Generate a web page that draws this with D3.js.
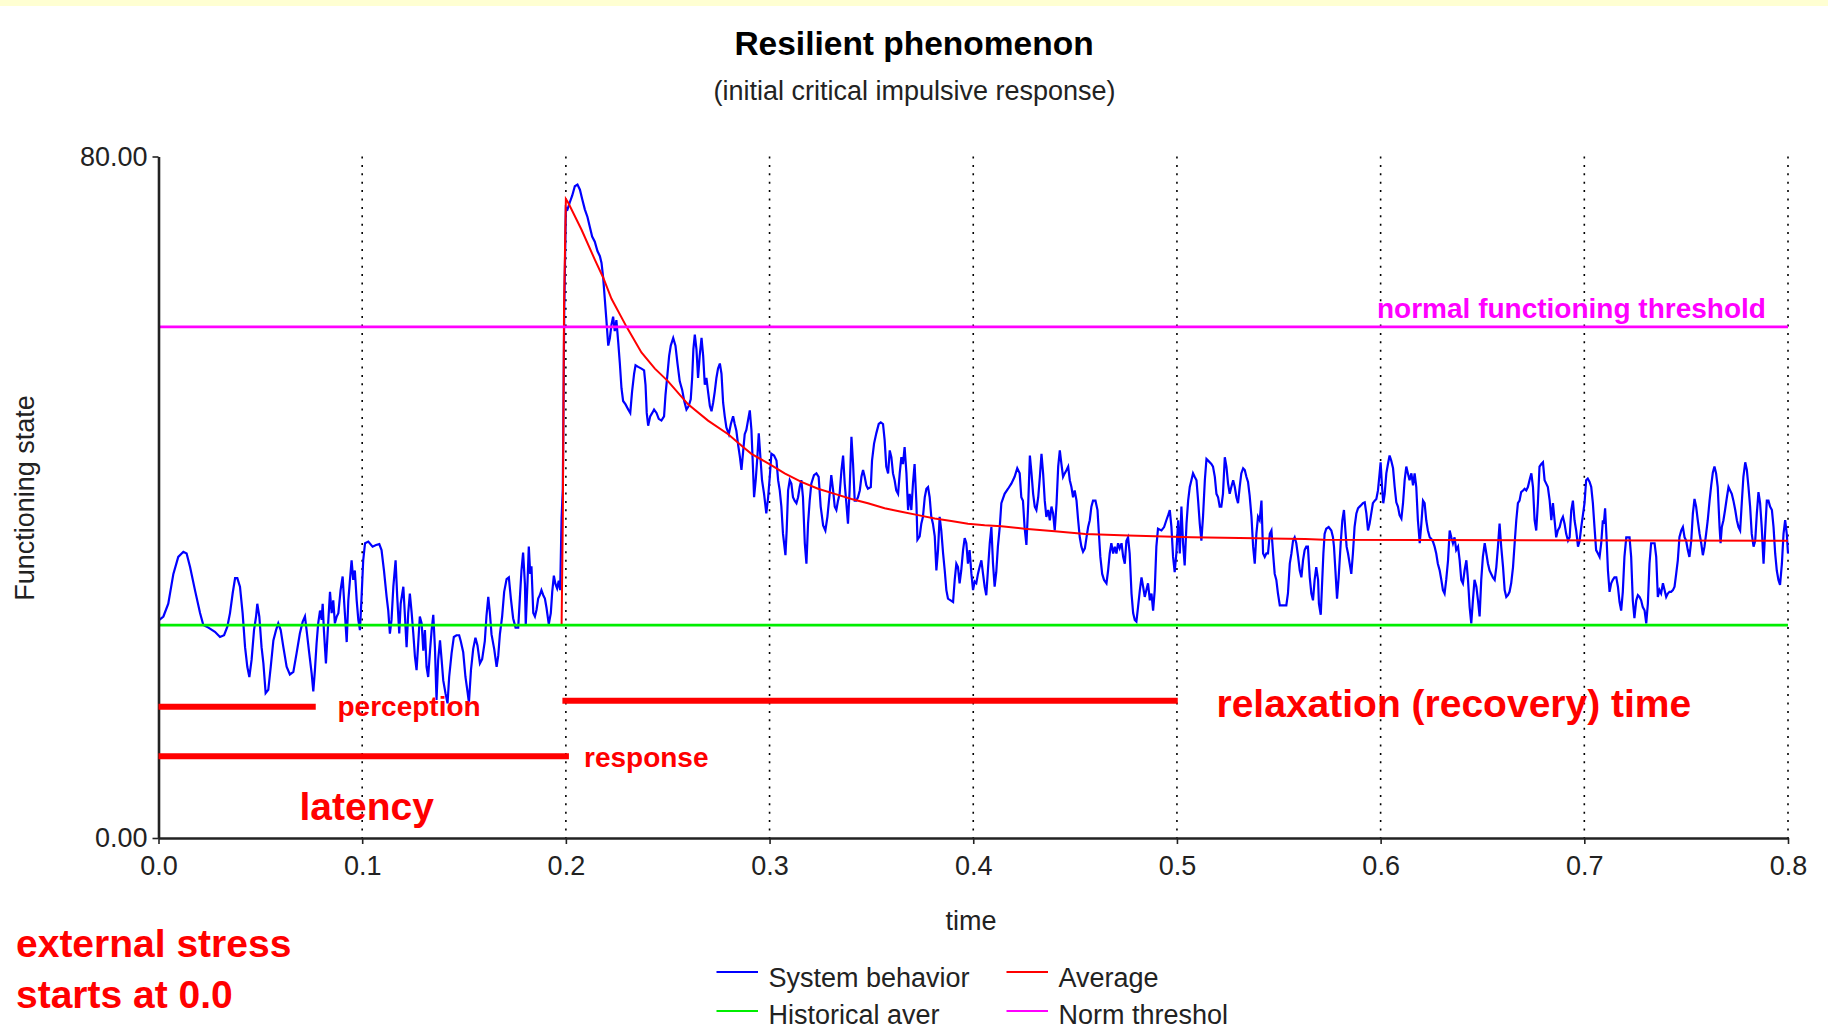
<!DOCTYPE html>
<html>
<head>
<meta charset="utf-8">
<script src="https://cdn.jsdelivr.net/npm/d3@7"></script>
<style>
  body { margin: 0; background: #fff; }
  svg { display: block; font-family: "Liberation Sans", Arial, sans-serif; }
</style>
</head>
<body>
<div id="chart"></div>
<script>
// Chart values
const xTicks = [0, 0.1, 0.2, 0.3, 0.4, 0.5, 0.6, 0.7, 0.8];
const yTicks = [0, 80];
const historicalAverage = 25;
const normThreshold = 60;

// [time, functioning state]
const systemBehavior = [
  [0.0004,25.6],[0.0024,26.0],[0.0048,27.5],[0.0073,31.0],[0.0097,33.0],[0.0122,33.6],[0.0138,33.4],[0.0155,31.8],[0.0179,29.1],[0.0204,26.4],
  [0.0220,25.0],[0.0245,24.7],[0.0277,24.2],[0.0302,23.6],[0.0322,23.8],[0.0338,24.8],[0.0351,26.4],[0.0364,28.7],[0.0376,30.5],[0.0387,30.5],
  [0.0400,29.5],[0.0413,26.4],[0.0425,22.4],[0.0436,20.1],[0.0446,18.9],[0.0457,20.9],[0.0469,24.4],[0.0479,26.0],[0.0485,27.5],[0.0495,26.0],
  [0.0506,22.4],[0.0515,20.5],[0.0526,17.0],[0.0539,17.4],[0.0551,20.1],[0.0564,23.2],[0.0577,24.4],[0.0588,25.2],[0.0600,24.4],[0.0613,22.4],
  [0.0629,20.1],[0.0645,19.2],[0.0662,19.5],[0.0678,21.7],[0.0694,24.0],[0.0708,25.4],[0.0719,26.0],[0.0727,24.4],[0.0740,21.7],[0.0752,19.3],
  [0.0760,17.2],[0.0768,19.7],[0.0776,22.8],[0.0784,25.2],[0.0793,26.7],[0.0801,25.6],[0.0806,27.5],[0.0812,24.4],[0.0822,20.5],[0.0834,25.6],
  [0.0842,28.9],[0.0850,26.4],[0.0858,27.9],[0.0866,25.2],[0.0875,26.0],[0.0883,26.4],[0.0894,29.1],[0.0904,30.7],[0.0912,27.5],[0.0924,23.0],
  [0.0932,27.9],[0.0940,30.3],[0.0948,32.6],[0.0956,30.3],[0.0964,31.4],[0.0973,27.9],[0.0981,25.6],[0.0989,24.4],[0.0997,28.3],[0.1005,32.6],
  [0.1014,34.6],[0.1030,34.8],[0.1051,34.2],[0.1068,34.4],[0.1084,34.5],[0.1095,33.8],[0.1107,31.4],[0.1120,28.3],[0.1128,26.7],[0.1136,24.0],
  [0.1144,25.6],[0.1153,29.5],[0.1164,32.6],[0.1172,28.3],[0.1182,24.0],[0.1189,27.5],[0.1202,29.5],[0.1210,26.0],[0.1218,22.4],[0.1226,26.4],
  [0.1234,28.7],[0.1243,26.4],[0.1251,24.0],[0.1259,21.3],[0.1267,19.7],[0.1275,22.8],[0.1283,26.0],[0.1292,25.2],[0.1300,22.0],[0.1308,24.4],
  [0.1316,20.1],[0.1324,18.9],[0.1333,22.0],[0.1341,24.4],[0.1349,26.2],[0.1357,22.4],[0.1365,16.2],[0.1373,20.9],[0.1382,23.2],[0.1390,20.9],
  [0.1398,18.5],[0.1409,17.0],[0.1419,15.8],[0.1427,18.9],[0.1439,21.7],[0.1450,23.6],[0.1463,23.8],[0.1476,23.8],
  [0.1484,23.1],[0.1496,21.8],[0.1507,18.9],[0.1517,17.2],[0.1524,15.9],[0.1534,19.7],[0.1545,22.2],[0.1556,23.5],[0.1566,22.6],[0.1578,20.5],
  [0.1589,21.0],[0.1602,23.1],[0.1610,26.0],[0.1619,28.3],[0.1627,26.4],[0.1635,23.9],[0.1648,22.2],[0.1660,20.1],[0.1668,21.4],[0.1676,23.9],
  [0.1687,26.0],[0.1697,28.9],[0.1709,30.4],[0.1720,30.6],[0.1730,28.1],[0.1741,25.8],[0.1753,24.7],[0.1766,24.7],[0.1774,28.1],[0.1782,31.4],
  [0.1790,33.5],[0.1799,29.8],[0.1803,25.0],[0.1812,30.2],[0.1818,34.2],[0.1825,31.0],[0.1831,31.9],[0.1840,26.4],[0.1848,26.0],[0.1856,26.8],
  [0.1864,28.1],[0.1872,28.5],[0.1880,29.1],[0.1889,28.5],[0.1897,28.1],[0.1905,27.0],[0.1916,25.1],[0.1926,26.4],[0.1933,28.9],[0.1941,30.8],
  [0.1949,29.8],[0.1957,29.3],[0.1965,30.2],[0.1972,29.1],[0.1979,37.6],[0.1985,41.0],[0.1992,62.0],[0.2000,74.0],
  [0.2008,73.8],[0.2019,74.6],[0.2031,75.4],[0.2044,76.5],[0.2057,76.7],[0.2069,76.1],[0.2080,75.0],[0.2093,73.8],[0.2106,72.9],[0.2118,71.7],
  [0.2129,70.6],[0.2142,70.0],[0.2155,68.9],[0.2167,68.3],[0.2175,67.5],[0.2183,65.8],[0.2191,63.3],[0.2199,60.8],[0.2208,57.8],[0.2216,58.7],
  [0.2224,60.3],[0.2232,61.2],[0.2240,59.5],[0.2248,60.8],[0.2257,58.2],[0.2265,55.7],[0.2273,52.8],[0.2281,51.3],[0.2293,50.9],[0.2306,50.3],
  [0.2316,49.9],[0.2325,52.4],[0.2335,54.5],[0.2342,55.5],[0.2355,55.3],[0.2371,55.1],[0.2384,54.9],[0.2391,53.2],[0.2397,49.9],[0.2404,48.4],
  [0.2414,49.5],[0.2424,49.9],[0.2433,50.3],[0.2445,49.9],[0.2456,49.2],[0.2469,49.0],[0.2482,49.5],[0.2489,52.0],[0.2499,54.5],[0.2507,56.6],
  [0.2515,57.8],[0.2527,58.7],[0.2538,57.8],[0.2548,55.7],[0.2559,53.6],[0.2571,52.6],[0.2581,51.3],[0.2592,50.3],[0.2603,50.7],[0.2613,51.5],
  [0.2620,54.0],[0.2626,57.4],[0.2633,59.1],[0.2641,57.4],[0.2649,54.0],[0.2657,56.6],[0.2666,58.7],[0.2674,56.6],[0.2682,53.2],[0.2690,54.0],
  [0.2698,52.4],[0.2707,50.7],[0.2715,50.1],[0.2723,51.1],[0.2731,52.4],[0.2739,54.0],[0.2747,55.1],[0.2756,55.7],[0.2764,54.5],[0.2772,51.1],
  [0.2780,49.5],[0.2788,48.2],[0.2800,47.4],[0.2810,48.6],[0.2821,49.5],[0.2829,48.6],[0.2837,47.8],[0.2846,46.1],[0.2854,44.8],[0.2862,43.2],
  [0.2870,45.3],[0.2878,47.4],
  [0.2886,47.9],[0.2894,49.0],[0.2903,50.2],[0.2911,47.9],[0.2919,43.2],[0.2924,40.0],[0.2932,42.0],[0.2940,44.7],[0.2947,47.5],[0.2955,44.7],
  [0.2963,42.0],[0.2973,40.4],[0.2984,38.1],[0.2993,40.0],[0.3001,42.4],[0.3009,45.1],[0.3022,44.9],[0.3034,44.3],[0.3042,42.0],[0.3050,40.8],
  [0.3058,38.9],[0.3066,35.7],[0.3078,33.2],[0.3084,36.1],[0.3091,40.8],[0.3099,42.0],[0.3107,41.6],[0.3115,40.0],[0.3123,39.6],[0.3132,39.3],
  [0.3140,40.0],[0.3148,41.2],[0.3156,42.0],[0.3164,40.0],[0.3173,34.6],[0.3181,32.2],[0.3189,36.9],[0.3197,39.6],[0.3205,41.6],[0.3218,42.6],
  [0.3230,42.8],[0.3241,42.4],[0.3251,38.9],[0.3263,36.7],[0.3274,36.1],[0.3284,37.7],[0.3295,40.4],[0.3303,42.6],[0.3312,40.8],[0.3320,38.9],
  [0.3328,38.5],[0.3336,39.6],[0.3344,40.4],[0.3353,43.2],[0.3361,44.9],[0.3369,41.6],[0.3377,39.3],[0.3385,36.9],[0.3393,40.8],[0.3402,47.1],
  [0.3410,43.9],[0.3418,39.6],[0.3426,39.6],[0.3434,40.0],[0.3443,40.8],[0.3451,42.4],[0.3459,43.2],[0.3467,42.4],[0.3475,41.4],[0.3483,41.0],
  [0.3497,41.2],[0.3503,44.3],[0.3513,46.3],[0.3524,47.5],[0.3536,48.6],[0.3546,48.8],[0.3557,48.6],[0.3565,46.7],[0.3573,43.6],[0.3582,42.8],
  [0.3590,45.5],[0.3598,44.7],[0.3606,42.8],[0.3614,42.0],[0.3622,40.8],[0.3631,40.4],[0.3639,42.8],[0.3647,44.7],[0.3655,43.9],[0.3663,45.9],
  [0.3672,42.8],[0.3680,38.5],[0.3688,40.4],[0.3696,38.5],[0.3704,41.6],[0.3712,43.9],[0.3721,39.3],[0.3726,35.0],[0.3737,35.4],[0.3745,36.9],
  [0.3753,37.7],[0.3762,40.0],[0.3770,41.0],[0.3778,41.2],[0.3786,40.0],[0.3794,37.7],[0.3802,36.9],[0.3811,35.4],[0.3819,31.4],[0.3827,33.8],
  [0.3835,37.7],[0.3843,36.1],[0.3852,33.4],[0.3860,31.4],[0.3868,29.1],[0.3876,28.1],[0.3889,27.9],[0.3901,27.7],[0.3909,30.3],[0.3917,32.2],
  [0.3925,31.8],[0.3933,29.9],[0.3941,31.4],[0.3950,33.8],[0.3958,35.2],[0.3966,34.6],[0.3974,32.2],[0.3982,33.8],[0.3991,31.0],[0.3999,29.1],
  [0.4007,30.1],[0.4015,29.9],[0.4023,31.0],[0.4031,31.8],[0.4040,32.6],[0.4048,31.0],[0.4056,29.5],[0.4064,28.5],[0.4072,31.4],[0.4081,34.6],
  [0.4089,36.5],[0.4097,32.2],[0.4105,29.5],[0.4113,31.2],[0.4121,34.2],[0.4130,36.5],[0.4138,39.3],[0.4154,40.4],[0.4171,41.0],[0.4187,41.6],
  [0.4203,42.4],[0.4216,43.4],[0.4228,42.8],[0.4236,40.0],[0.4244,39.6],[0.4252,36.5],
  [0.4261,34.4],[0.4270,39.3],[0.4278,44.9],[0.4286,42.8],[0.4294,40.4],[0.4302,38.9],[0.4310,38.5],[0.4319,40.0],[0.4327,42.4],[0.4335,45.1],
  [0.4343,42.8],[0.4351,39.6],[0.4359,37.7],[0.4368,38.5],[0.4376,37.3],[0.4384,38.9],[0.4392,38.1],[0.4400,36.1],[0.4409,39.3],[0.4417,43.6],
  [0.4425,45.5],[0.4433,43.9],[0.4441,42.4],[0.4449,42.8],[0.4458,43.2],[0.4466,43.6],[0.4474,42.0],[0.4482,41.2],[0.4490,40.0],[0.4498,40.8],
  [0.4507,39.6],[0.4515,37.3],[0.4523,35.3],[0.4531,34.2],[0.4539,33.6],[0.4548,34.0],[0.4556,35.3],[0.4564,36.5],[0.4572,37.3],[0.4580,38.9],
  [0.4588,39.6],[0.4600,39.6],[0.4610,38.5],[0.4616,36.1],[0.4624,33.0],[0.4633,31.0],[0.4642,30.3],[0.4654,29.9],[0.4662,31.4],[0.4670,33.4],
  [0.4678,34.6],[0.4687,33.4],[0.4695,34.2],[0.4703,33.4],[0.4711,34.6],[0.4719,34.0],[0.4728,34.6],[0.4736,33.0],[0.4744,32.2],[0.4752,34.9],
  [0.4760,35.3],[0.4768,33.4],[0.4777,28.7],[0.4785,26.4],[0.4793,25.6],[0.4801,25.4],[0.4809,27.1],[0.4818,29.1],[0.4826,30.6],[0.4834,29.5],
  [0.4842,28.3],[0.4850,29.1],[0.4858,29.9],[0.4867,27.9],[0.4875,28.7],[0.4883,26.7],[0.4891,29.1],[0.4899,34.2],[0.4907,36.3],[0.4924,36.1],
  [0.4937,36.5],[0.4948,37.3],[0.4957,37.9],[0.4965,38.5],[0.4973,36.5],[0.4981,33.0],[0.4989,31.2],[0.4997,33.4],[0.5006,37.3],[0.5014,33.4],
  [0.5022,38.9],[0.5030,34.6],[0.5038,32.0],[0.5047,36.9],[0.5055,39.6],[0.5063,41.2],[0.5071,42.0],[0.5079,42.8],[0.5087,42.4],[0.5096,42.0],
  [0.5104,39.6],[0.5112,36.9],[0.5120,34.9],[0.5128,37.7],[0.5137,42.0],[0.5145,44.5],[0.5153,44.3],[0.5169,43.9],[0.5177,43.6],[0.5186,42.4],
  [0.5194,40.4],[0.5202,40.0],[0.5210,38.9],[0.5218,38.9],[0.5226,40.4],[0.5235,44.7],[0.5243,43.6],[0.5251,41.6],[0.5259,40.4],[0.5267,41.2],
  [0.5276,42.0],[0.5284,41.2],[0.5292,40.0],[0.5300,39.3],[0.5308,41.2],[0.5316,42.8],[0.5325,43.4],[0.5333,43.2],[0.5341,42.4],[0.5349,41.8],
  [0.5357,40.2],[0.5366,37.7],[0.5374,34.2],[0.5382,32.2],[0.5390,35.7],[0.5398,37.7],[0.5406,37.3],[0.5415,39.6],[0.5423,33.4],[0.5431,33.0],
  [0.5439,33.4],[0.5447,33.4],[0.5456,35.7],[0.5464,36.1],[0.5472,33.4],[0.5480,31.0],[0.5488,30.3],[0.5496,28.7],[0.5505,27.3],[0.5521,27.3],
  [0.5537,27.3],[0.5545,28.7],[0.5554,32.2],[0.5562,33.4],[0.5570,34.9],[0.5578,35.3],[0.5586,34.6],[0.5595,33.0],[0.5603,31.4],[0.5611,30.6],
  [0.5619,32.6],[0.5627,33.8],
  [0.5635,34.2],[0.5643,34.2],[0.5652,30.6],[0.5660,28.7],[0.5668,27.9],[0.5676,30.3],[0.5684,31.8],[0.5693,30.3],[0.5697,27.5],[0.5706,26.2],
  [0.5712,29.5],[0.5719,33.4],[0.5725,35.7],[0.5733,36.3],[0.5745,36.5],[0.5758,36.1],[0.5766,35.3],[0.5771,34.2],[0.5778,31.4],[0.5786,28.1],
  [0.5794,30.6],[0.5804,34.6],[0.5812,37.3],[0.5820,38.5],[0.5827,36.1],[0.5833,34.2],[0.5840,33.4],[0.5848,32.2],[0.5856,31.0],[0.5864,33.4],
  [0.5872,36.5],[0.5881,38.1],[0.5889,38.7],[0.5897,38.9],[0.5905,39.1],[0.5913,39.3],[0.5922,39.4],[0.5930,38.1],[0.5938,36.1],[0.5946,36.9],
  [0.5954,38.1],[0.5962,39.3],[0.5971,39.6],[0.5979,39.8],[0.5987,40.8],[0.5995,42.8],[0.6000,44.1],[0.6007,41.2],[0.6013,39.3],[0.6020,40.4],
  [0.6028,42.8],[0.6036,43.9],[0.6044,44.9],[0.6052,44.3],[0.6061,43.4],[0.6069,41.2],[0.6077,39.4],[0.6085,38.9],[0.6093,37.9],[0.6102,37.5],
  [0.6110,39.3],[0.6118,42.0],[0.6126,43.6],[0.6134,42.8],[0.6142,42.0],[0.6151,42.8],[0.6159,41.4],[0.6167,42.8],[0.6175,41.2],[0.6183,37.3],
  [0.6192,34.6],[0.6200,36.9],[0.6208,39.6],[0.6216,39.3],[0.6224,37.3],[0.6232,36.1],[0.6241,35.3],[0.6249,35.1],[0.6257,34.8],[0.6265,34.2],
  [0.6273,33.4],[0.6281,32.2],[0.6290,31.4],[0.6298,30.3],[0.6306,29.1],[0.6314,28.7],[0.6322,30.3],[0.6331,32.6],[0.6339,36.1],[0.6347,35.3],
  [0.6355,34.6],[0.6363,35.3],[0.6371,33.8],[0.6380,34.2],[0.6388,32.6],[0.6396,30.3],[0.6404,29.9],[0.6412,31.4],[0.6421,32.6],[0.6429,30.3],
  [0.6437,27.1],[0.6445,25.2],[0.6453,27.9],[0.6461,30.3],[0.6470,29.5],[0.6478,27.9],[0.6486,26.0],[0.6494,30.3],[0.6502,33.0],[0.6511,34.6],
  [0.6519,33.4],[0.6527,32.2],[0.6535,31.4],[0.6543,31.0],[0.6551,30.6],[0.6560,30.3],[0.6568,31.8],[0.6576,34.2],[0.6584,36.9],[0.6592,34.2],
  [0.6601,31.8],[0.6609,29.1],[0.6617,28.3],[0.6625,28.5],[0.6633,28.9],[0.6641,29.9],[0.6650,31.8],[0.6658,34.6],[0.6666,37.3],[0.6674,39.3],
  [0.6682,39.6],[0.6690,40.6],[0.6699,40.8],[0.6707,41.0],[0.6715,40.8],[0.6723,41.2],[0.6731,42.0],[0.6740,42.8],[0.6748,41.2],[0.6756,37.3],
  [0.6764,36.1],[0.6772,39.3],[0.6780,43.6],[0.6789,43.9],[0.6797,44.1],[0.6805,42.0],[0.6813,41.6],[0.6821,41.2],[0.6830,39.6],[0.6838,37.3],
  [0.6846,39.3],[0.6854,37.3],[0.6862,35.3],[0.6870,36.1],[0.6879,36.5],[0.6887,37.3],[0.6895,37.7],[0.6903,36.9],[0.6911,35.7],[0.6920,34.9],
  [0.6928,35.3],[0.6936,38.5],[0.6944,39.6],[0.6952,37.3],[0.6960,36.1],[0.6969,34.2],[0.6977,34.9],[0.6985,36.5],
  [0.7001,39.3],[0.7009,42.0],[0.7017,42.2],[0.7026,41.8],[0.7034,41.2],[0.7042,39.3],[0.7050,36.5],[0.7058,33.8],[0.7067,33.4],[0.7075,33.0],
  [0.7083,34.6],[0.7091,37.3],[0.7096,36.9],[0.7102,38.7],[0.7109,35.3],[0.7116,31.4],[0.7124,28.9],[0.7132,29.9],[0.7140,30.3],[0.7148,30.6],
  [0.7157,30.6],[0.7165,29.5],[0.7173,27.7],[0.7181,26.7],[0.7189,28.9],[0.7197,33.0],[0.7206,35.3],[0.7214,35.3],[0.7222,35.3],[0.7230,33.0],
  [0.7238,27.9],[0.7246,25.8],[0.7255,27.9],[0.7263,28.5],[0.7271,28.3],[0.7279,27.9],[0.7287,27.1],[0.7296,26.7],[0.7304,25.2],[0.7312,27.5],
  [0.7320,32.2],[0.7328,34.6],[0.7336,34.6],[0.7345,34.6],[0.7353,33.0],[0.7361,28.3],[0.7369,29.1],[0.7377,28.7],[0.7386,29.9],[0.7394,29.1],
  [0.7402,28.3],[0.7410,28.7],[0.7418,28.9],[0.7426,28.9],[0.7435,29.1],[0.7443,29.5],[0.7451,31.0],[0.7459,32.6],[0.7467,35.3],[0.7476,36.1],
  [0.7484,36.5],[0.7492,35.3],[0.7500,34.9],[0.7508,33.8],[0.7516,33.0],[0.7525,34.9],[0.7533,38.1],[0.7541,39.8],[0.7549,38.9],[0.7557,37.3],
  [0.7566,35.7],[0.7574,34.6],[0.7582,33.2],[0.7590,34.2],[0.7598,35.7],[0.7606,37.3],[0.7615,39.6],[0.7623,41.4],[0.7631,42.9],[0.7639,43.6],
  [0.7647,42.8],[0.7655,41.2],[0.7664,36.5],[0.7669,34.6],[0.7675,36.5],[0.7683,37.3],[0.7691,38.5],[0.7700,40.0],[0.7708,41.2],[0.7716,40.8],
  [0.7724,40.4],[0.7732,39.6],[0.7741,38.5],[0.7749,37.3],[0.7757,36.5],[0.7765,36.1],[0.7773,39.3],[0.7781,42.4],[0.7790,44.1],[0.7798,43.2],
  [0.7806,41.2],[0.7814,38.9],[0.7822,35.7],[0.7831,34.2],[0.7839,34.9],[0.7847,38.1],[0.7855,40.6],[0.7863,39.3],[0.7871,36.5],[0.7880,32.2],
  [0.7888,36.1],[0.7896,39.6],[0.7904,39.6],[0.7912,38.9],[0.7921,38.5],[0.7929,36.5],[0.7937,33.4],[0.7945,31.4],[0.7953,30.3],[0.7961,29.7],
  [0.7970,32.2],[0.7978,35.7],[0.7986,37.3],[0.7994,35.7],[0.8000,33.4]
];

// [time, average]
const averageCurve = [
  [0,25],[0.1979,25],[0.1985,37.5],[0.1991,62.5],[0.2000,75],[0.2011,74.6],[0.2077,71.4],[0.2142,67.9],[0.2183,65.8],[0.2224,63.3],
  [0.2298,60.0],[0.2371,57.0],[0.2437,55.1],[0.2502,53.6],[0.2600,50.9],[0.2698,49.0],[0.2797,47.4],[0.2870,45.9],[0.2911,45.1],[0.3006,43.8],
  [0.3074,42.8],[0.3156,41.8],[0.3238,41.0],[0.3320,40.4],[0.3402,39.8],[0.3483,39.3],[0.3565,38.7],[0.3647,38.3],[0.3729,37.9],[0.3811,37.5],
  [0.3892,37.2],[0.3974,36.9],[0.4056,36.7],[0.4138,36.6],[0.4252,36.3],[0.4400,36.0],[0.4550,35.7],[0.4760,35.5],[0.5070,35.3],[0.5630,35.1],
  [0.5720,35.0],[0.8000,34.9]
];

// phase bars: name, start, end, level
const phaseNames = ["perception", "response", "relaxation"];
const phaseStart = [0, 0, 0.1983];
const phaseEnd = [0.0772, 0.2015, 0.5004];
const phaseLevel = [15.4, 9.6, 16.1];

const legendNames = ["System behavior", "Average", "Historical aver", "Norm threshol"];
const legendColors = ["#0000ff", "#ff0000", "#00ee00", "#ff00ff"];

// Dimensions
const width = 1828, height = 1035;
const x = d3.scaleLinear().domain([0, 0.8]).range([158.5, 1788]);
const y = d3.scaleLinear().domain([0, 80]).range([838, 156.5]);

const svg = d3.select("#chart").append("svg")
  .attr("width", width)
  .attr("height", height);

svg.append("rect").attr("width", width).attr("height", height).attr("fill", "#fff");
svg.append("rect").attr("width", width).attr("height", 6).attr("fill", "#ffffd2");

// Titles
svg.append("text")
  .attr("x", 914).attr("y", 55)
  .attr("text-anchor", "middle")
  .style("font-size", "33.5px").style("font-weight", "bold")
  .attr("fill", "#000")
  .text("Resilient phenomenon");

svg.append("text")
  .attr("x", 914.5).attr("y", 100)
  .attr("text-anchor", "middle")
  .style("font-size", "27px")
  .attr("fill", "#222")
  .text("(initial critical impulsive response)");

// Dotted vertical grid
svg.append("g").selectAll("line")
  .data(xTicks.filter(d => d > 0))
  .enter().append("line")
  .attr("x1", d => x(d)).attr("x2", d => x(d))
  .attr("y1", y(80)).attr("y2", y(0))
  .attr("stroke", "#000")
  .attr("stroke-width", 1.6)
  .attr("stroke-dasharray", "2 6.4");

// Lines
const line = d3.line().x(d => x(d[0])).y(d => y(d[1]));

svg.append("path")
  .datum(systemBehavior)
  .attr("d", line)
  .attr("fill", "none")
  .attr("stroke", "#0000ff")
  .attr("stroke-width", 2.2);

svg.append("path")
  .datum(averageCurve)
  .attr("d", line)
  .attr("fill", "none")
  .attr("stroke", "#ff0000")
  .attr("stroke-width", 2);

svg.append("path")
  .datum([[0, historicalAverage], [0.8, historicalAverage]])
  .attr("d", line)
  .attr("fill", "none")
  .attr("stroke", "#00ee00")
  .attr("stroke-width", 2.8);

svg.append("path")
  .datum([[0, normThreshold], [0.8, normThreshold]])
  .attr("d", line)
  .attr("fill", "none")
  .attr("stroke", "#ff00ff")
  .attr("stroke-width", 2.8);

// Axes
const xAxis = svg.append("g")
  .attr("transform", "translate(0," + y(0) + ")")
  .call(d3.axisBottom(x).tickValues(xTicks).tickFormat(d3.format(".1f"))
    .tickSize(6).tickSizeOuter(0).tickPadding(12));

const yAxis = svg.append("g")
  .attr("transform", "translate(" + x(0) + ",0)")
  .call(d3.axisLeft(y).tickValues(yTicks).tickFormat(d3.format(".2f"))
    .tickSize(6).tickSizeOuter(0).tickPadding(5));

[xAxis, yAxis].forEach(g => {
  g.attr("font-family", null).attr("font-size", null);
  g.select(".domain").attr("stroke", "#222").attr("stroke-width", 2.6);
  g.selectAll(".tick line").attr("stroke", "#222").attr("stroke-width", 1.6);
  g.selectAll(".tick text").attr("fill", "#222").style("font-size", "27px");
});

// Axis titles
svg.append("text")
  .attr("x", 971).attr("y", 930)
  .attr("text-anchor", "middle")
  .style("font-size", "27px")
  .attr("fill", "#222")
  .text("time");

svg.append("text")
  .attr("transform", "translate(34,498) rotate(-90)")
  .attr("text-anchor", "middle")
  .style("font-size", "27px")
  .attr("fill", "#222")
  .text("Functioning state");

// Phase bars
svg.append("g").selectAll("line")
  .data(phaseNames)
  .enter().append("line")
  .attr("x1", (d, i) => x(phaseStart[i]))
  .attr("x2", (d, i) => x(phaseEnd[i]))
  .attr("y1", (d, i) => y(phaseLevel[i]))
  .attr("y2", (d, i) => y(phaseLevel[i]))
  .attr("stroke", "#ff0000")
  .attr("stroke-width", 6);

// Annotations
function note(px, py, size, color, txt) {
  svg.append("text")
    .attr("x", px).attr("y", py)
    .style("font-size", size + "px").style("font-weight", "bold")
    .attr("fill", color)
    .text(txt);
}
note(337.5, 716, 28, "#ff0000", "perception");
note(584, 767, 28, "#ff0000", "response");
note(299.5, 820, 39, "#ff0000", "latency");
note(1216.5, 717, 39, "#ff0000", "relaxation (recovery) time");
note(1377, 318, 28, "#ff00ff", "normal functioning threshold");
note(16, 957, 39, "#ff0000", "external stress");
note(16, 1008, 39, "#ff0000", "starts at 0.0");

// Legend
const legend = svg.append("g").selectAll("g")
  .data(legendNames)
  .enter().append("g")
  .attr("transform", (d, i) => "translate(" + (i % 2 === 0 ? 716.5 : 1006.5) + "," + (i < 2 ? 972 : 1011) + ")");

legend.append("line")
  .attr("x1", 0).attr("x2", 41.5)
  .attr("stroke", (d, i) => legendColors[i])
  .attr("stroke-width", 2);

legend.append("text")
  .attr("x", 52).attr("y", (d, i) => i < 2 ? 14.5 : 13)
  .style("font-size", "27px")
  .attr("fill", "#222")
  .text(d => d);
</script>
</body>
</html>
